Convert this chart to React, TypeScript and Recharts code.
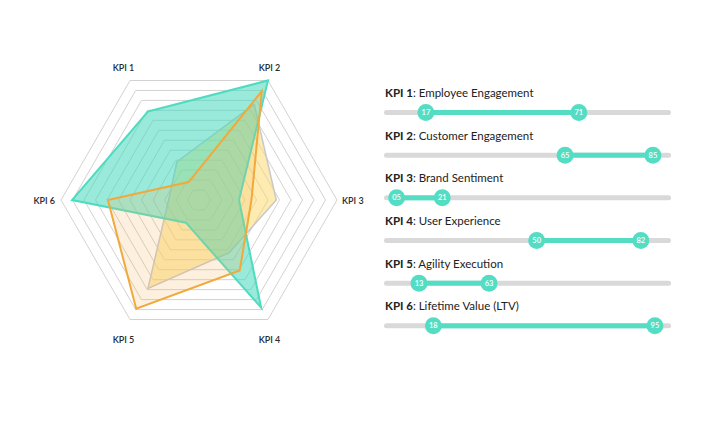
import React from "react";
import {
  Bar,
  ComposedChart,
  PolarAngleAxis,
  PolarGrid,
  PolarRadiusAxis,
  Radar,
  RadarChart,
  XAxis,
  YAxis,
} from "recharts";

const kpis = ["KPI 1", "KPI 2", "KPI 3", "KPI 4", "KPI 5", "KPI 6"];
const yellowValues = [32, 80, 56, 44, 74, 22];
const tealValues = [74, 100, 29, 90, 19, 92];
const orangeValues = [15, 91, 38, 59, 91, 66];

const sliderTitles = [
  "Employee Engagement",
  "Customer Engagement",
  "Brand Sentiment",
  "User Experience",
  "Agility Execution",
  "Lifetime Value (LTV)",
];
const lowLabels = ["17", "65", "05", "50", "13", "18"];
const highLabels = ["71", "85", "21", "82", "63", "95"];
// where the handles sit on the 0-100 track in the picture
const lowPositions = [14.6, 63.1, 4.4, 53.2, 12.2, 17.2];
const highPositions = [67.9, 93.7, 20.3, 89.5, 36.6, 94.4];

const radarData = kpis.map((kpi, i) => ({
  kpi,
  yellow: yellowValues[i],
  teal: tealValues[i],
  orange: orangeValues[i],
}));

const sliderData = kpis.map((kpi, i) => ({
  kpi,
  title: sliderTitles[i],
  range: [lowPositions[i], highPositions[i]],
  lowLabel: lowLabels[i],
  highLabel: highLabels[i],
}));

const FONT = "Lato, 'Noto Sans', sans-serif";
const TEAL = "#55ddc4";
const CX = 199;
const CY = 200;
const OUTER = 138;
const RINGS = 12;
const ringRadii = Array.from({ length: RINGS }, (_, i) => (OUTER * (i + 1)) / RINGS);

function AngleTick(props: any) {
  const { x, y, payload } = props;
  let tx = x;
  let ty = y;
  let anchor: "start" | "middle" | "end" = "middle";
  if (Math.abs(y - CY) < 5) {
    if (x > CX) {
      tx = x - 3;
      anchor = "start";
    } else {
      tx = x + 2;
      anchor = "end";
    }
  } else if (y < CY) {
    tx = x - 2.5;
    ty = y - 5.6;
  } else {
    tx = x - 2.5;
    ty = y + 12.6;
  }
  return (
    <text
      x={tx}
      y={ty}
      textAnchor={anchor}
      dominantBaseline="central"
      fontFamily={FONT}
      fontSize={9}
      fontWeight={600}
      fill="#2a2a2a"
      stroke="none"
    >
      {payload.value}
    </text>
  );
}

function TrackShape(props: any) {
  const { x, y, width, height, payload } = props;
  const mid = y + height / 2;
  return (
    <g>
      <text x={x + 1} y={mid - 15.5} fontFamily={FONT} fontSize={11.5} fill="#222">
        <tspan fontWeight={700}>{payload.kpi}</tspan>
        <tspan>: {payload.title}</tspan>
      </text>
      <rect x={x} y={y} width={width} height={height} rx={height / 2} fill="#d9d9d9" />
    </g>
  );
}

function RangeShape(props: any) {
  const { x, y, width, height, payload } = props;
  const mid = y + height / 2;
  const handles = [
    { cx: x, label: payload.lowLabel },
    { cx: x + width, label: payload.highLabel },
  ];
  return (
    <g>
      <rect x={x} y={y} width={width} height={height} fill={TEAL} />
      {handles.map((h, i) => (
        <g key={i}>
          <circle cx={h.cx} cy={mid} r={8.5} fill={TEAL} />
          <text
            x={h.cx}
            y={mid}
            textAnchor="middle"
            dominantBaseline="central"
            fontFamily={FONT}
            fontSize={7.5}
            fontWeight={600}
            fill="#fff"
          >
            {h.label}
          </text>
        </g>
      ))}
    </g>
  );
}

export default function App() {
  return (
    <div
      style={{
        position: "absolute",
        left: 0,
        top: 0,
        width: 727,
        height: 434,
        background: "#fff",
        fontFamily: FONT,
      }}
    >
      <div style={{ position: "absolute", left: 0, top: 0 }}>
        <RadarChart
          width={400}
          height={400}
          data={radarData}
          cx={CX}
          cy={CY}
          outerRadius={OUTER}
          startAngle={120}
          endAngle={-240}
          margin={{ top: 0, right: 0, bottom: 0, left: 0 }}
        >
          <PolarGrid
            gridType="polygon"
            radialLines={false}
            polarRadius={ringRadii}
            stroke="#d2d2d2"
          />
          <PolarAngleAxis dataKey="kpi" tick={AngleTick} tickLine={false} axisLine={false} />
          <PolarRadiusAxis domain={[0, 100]} tick={false} axisLine={false} />
          <Radar
            dataKey="yellow"
            stroke="#c8c8c8"
            strokeWidth={1.5}
            fill="#fdd866"
            fillOpacity={0.5}
            isAnimationActive={false}
          />
          <Radar
            dataKey="teal"
            stroke="#4edcc0"
            strokeWidth={2}
            fill="#45d8bb"
            fillOpacity={0.55}
            isAnimationActive={false}
          />
          <Radar
            dataKey="orange"
            stroke="#f2a93b"
            strokeWidth={2}
            fill="#f7b55a"
            fillOpacity={0.2}
            isAnimationActive={false}
          />
        </RadarChart>
      </div>
      <div style={{ position: "absolute", left: 0, top: 0 }}>
        <ComposedChart
          width={727}
          height={434}
          layout="vertical"
          data={sliderData}
          margin={{ top: 91, right: 56, bottom: 87, left: 384 }}
          style={{ overflow: "visible" }}
        >
          <XAxis type="number" domain={[0, 100]} hide />
          <YAxis type="category" dataKey="kpi" hide />
          <Bar
            dataKey="range"
            barSize={5}
            background={TrackShape}
            shape={RangeShape}
            isAnimationActive={false}
          />
        </ComposedChart>
      </div>
    </div>
  );
}
